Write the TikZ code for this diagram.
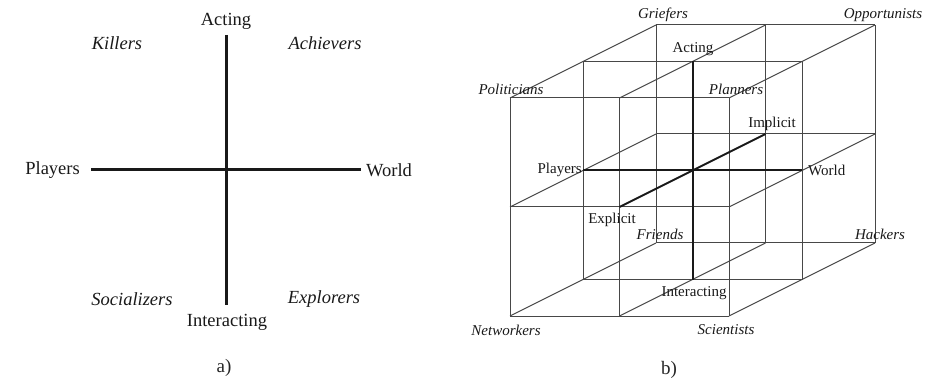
\documentclass[tikz,border=0pt]{standalone}
\usepackage{fontspec}
\setmainfont{Liberation Serif}
\begin{document}
\begin{tikzpicture}[x=1pt,y=-1pt]
	\def \midx{226}
	\def \midy{170}
	\tikzstyle{big-lbl}=[font=\fontsize{18.5}{20}\selectfont,inner sep=0pt,text=black!90]
	\tikzstyle{big-type}=[font=\fontsize{18.5}{20}\selectfont\itshape,inner sep=0pt,text=black!90]
	\tikzstyle{cube-lbl}=[font=\fontsize{15}{16}\selectfont,inner sep=0pt,text=black!90]
	\tikzstyle{cube-type}=[font=\fontsize{15}{16}\selectfont\itshape,inner sep=0pt,text=black!90]
	\tikzstyle{caption}=[font=\fontsize{19}{20}\selectfont,inner sep=0pt,text=black!85]
	\tikzstyle{axis-a}=[line width=3pt,black!90]
	\tikzstyle{grid-b}=[line width=1pt,black!72]
	\tikzstyle{axis-b}=[line width=2pt,black!90]
	\useasboundingbox (0,0) rectangle (939,379);

	% a) the plane
	\coordinate (atop) at (\midx,35);
	\coordinate (abot) at (\midx,305);
	\coordinate (aleft) at (91,\midy);
	\coordinate (aright) at (361,\midy);
	\draw[axis-a] (atop) -- (abot);
	\draw[axis-a] (aleft) -- (aright);
	\node[big-lbl] (acting) at (\midx,21) {Acting};
	\node[big-lbl] (interacting) at (227,322) {Interacting};
	\node[big-lbl,anchor=east] (players) at (80,\midy) {Players};
	\node[big-lbl,anchor=west] (world) at (366,\midy) {World};
	\node[big-type] (killers) at (117,43) {Killers};
	\node[big-type] (achievers) at (325,43) {Achievers};
	\node[big-type] (socializers) at (132,299) {Socializers};
	\node[big-type] (explorers) at (324,299) {Explorers};
	\node[caption] (capa) at (224,368) {a)};

	% b) the cube
	\foreach \i in {0,1,2}
		\foreach \j in {0,1,2}
			\foreach \k in {0,1,2}
				\coordinate (c\i\j\k) at (510+109.5*\i+73*\k,316-109*\j-36.5*\k);
	\foreach \a in {0,1,2}
		\foreach \b in {0,1,2} {
			\draw[grid-b] (c0\a\b) -- (c2\a\b);
			\draw[grid-b] (c\a0\b) -- (c\a2\b);
			\draw[grid-b] (c\a\b0) -- (c\a\b2);
		}
	\draw[axis-b] (c011) -- (c211);
	\draw[axis-b] (c101) -- (c121);
	\draw[axis-b] (c110) -- (c112);
	\node[cube-lbl] (bacting) at (693,49) {Acting};
	\node[cube-lbl] (binteracting) at (694,293) {Interacting};
	\node[cube-lbl,anchor=east] (bplayers) at (582,170) {Players};
	\node[cube-lbl,anchor=west] (bworld) at (808,170) {World};
	\node[cube-lbl] (implicit) at (772,124) {Implicit};
	\node[cube-lbl] (explicit) at (612,220) {Explicit};
	\node[cube-type] (griefers) at (663,15) {Griefers};
	\node[cube-type] (opportunists) at (883,15) {Opportunists};
	\node[cube-type] (politicians) at (511,89) {Politicians};
	\node[cube-type] (planners) at (736,89) {Planners};
	\node[cube-type] (friends) at (660,234) {Friends};
	\node[cube-type] (hackers) at (880,234) {Hackers};
	\node[cube-type] (networkers) at (506,330) {Networkers};
	\node[cube-type] (scientists) at (726,330) {Scientists};
	\node[caption] (capb) at (669,370) {b)};
\end{tikzpicture}
\end{document}
